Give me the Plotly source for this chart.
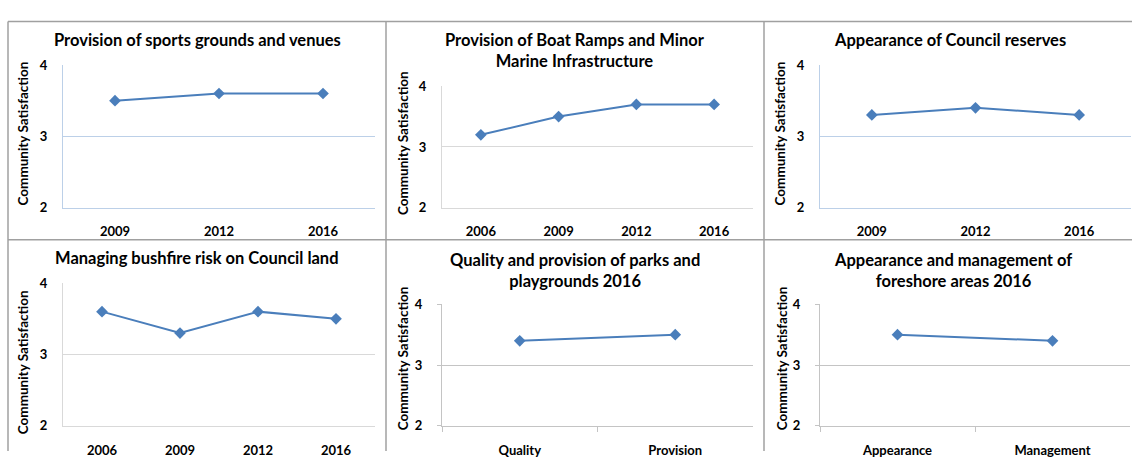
import plotly.graph_objects as go

W, H = 1132, 459

# ---- data ----
titles = [
    "Provision of sports grounds and venues",
    "Provision of Boat Ramps and Minor<br>Marine Infrastructure",
    "Appearance of Council reserves",
    "Managing bushfire risk on Council land",
    "Quality and provision of parks and<br>playgrounds 2016",
    "Appearance and management of<br>foreshore areas 2016",
]
cats_sports = ["2009", "2012", "2016"]
vals_sports = [3.5, 3.6, 3.6]
cats_boat = ["2006", "2009", "2012", "2016"]
vals_boat = [3.2, 3.5, 3.7, 3.7]
cats_reserves = ["2009", "2012", "2016"]
vals_reserves = [3.3, 3.4, 3.3]
cats_bushfire = ["2006", "2009", "2012", "2016"]
vals_bushfire = [3.6, 3.3, 3.6, 3.5]
cats_parks = ["Quality", "Provision"]
vals_parks = [3.4, 3.5]
cats_foreshore = ["Appearance", "Management"]
vals_foreshore = [3.5, 3.4]
y_ticks = [2, 3, 4]
y_label = "Community Satisfaction"

series = [
    (cats_sports, vals_sports),
    (cats_boat, vals_boat),
    (cats_reserves, vals_reserves),
    (cats_bushfire, vals_bushfire),
    (cats_parks, vals_parks),
    (cats_foreshore, vals_foreshore),
]

# ---- layout (pixel geometry) ----
# plot area: x0, x1, ytop, ybottom
plot_px = [
    (63, 375, 59, 207),
    (442, 753, 81, 207),
    (820, 1131, 59, 207),
    (63, 375, 285, 433),
    (442, 753, 307, 433),
    (820, 1130, 307, 433),
]
title_px = [(197, 33), (575, 44), (950, 33), (197, 259), (575, 272), (953, 272)]
ylab_px = [(23, 130), (403, 140), (780, 130), (23, 367), (403, 363), (782, 363)]
grid_colors = ["#BCD0E8", "#D9D9D9", "#BCD0E8", "#D9D9D9", "#C4C4C4", "#C4C4C4"]
has_ticks = [False, False, False, False, True, True]

FONT = "Lato"
LINE_COLOR = "#4A7EBB"

fig = go.Figure()
layout = dict(
    width=W, height=H, margin=dict(l=0, r=0, t=0, b=0),
    paper_bgcolor="white", plot_bgcolor="white", showlegend=False,
    font=dict(family=FONT, color="#000000"),
)
annotations = []
shapes = []

for i, ((cats, vals), (x0, x1, yt, yb)) in enumerate(zip(series, plot_px)):
    n = i + 1
    xa = "x" if n == 1 else f"x{n}"
    ya = "y" if n == 1 else f"y{n}"
    fig.add_trace(go.Scatter(
        x=cats, y=vals, xaxis=xa, yaxis=ya, mode="lines+markers",
        line=dict(color=LINE_COLOR, width=2),
        marker=dict(symbol="diamond", size=9, color=LINE_COLOR),
        hoverinfo="x+y",
    ))
    gc = grid_colors[i]
    layout["xaxis" if n == 1 else f"xaxis{n}"] = dict(
        domain=[x0 / W, x1 / W], anchor=ya, type="category",
        range=[-0.5, len(cats) - 0.5],
        showgrid=False, showline=True, linecolor=gc, linewidth=1,
        ticks="outside" if has_ticks[i] else "", ticklen=5, tickcolor=gc,
        tickson="boundaries" if has_ticks[i] else "labels",
        tickfont=dict(family=FONT, size=13, color="#000000", weight="bold"),
        ticklabelstandoff=12, fixedrange=True,
    )
    layout["yaxis" if n == 1 else f"yaxis{n}"] = dict(
        domain=[1 - yb / H, 1 - yt / H], anchor=xa,
        range=[2, 4], tickvals=y_ticks, showgrid=True, gridcolor=gc, gridwidth=1,
        showline=True, linecolor=gc, linewidth=1, zeroline=False,
        ticks="outside" if has_ticks[i] else "", ticklen=4, tickcolor=gc,
        tickfont=dict(family=FONT, size=13, color="#000000", weight="bold"),
        ticklabelstandoff=12, fixedrange=True,
    )
    tx, ty = title_px[i]
    annotations.append(dict(
        text=titles[i], x=tx / W, y=1 - ty / H, xref="paper", yref="paper",
        xanchor="center", yanchor="middle", showarrow=False, align="center",
        font=dict(family=FONT, size=16.5, color="#000000", weight="bold"),
    ))
    lx, ly = ylab_px[i]
    annotations.append(dict(
        text=y_label, x=lx / W, y=1 - ly / H, xref="paper", yref="paper",
        xanchor="center", yanchor="middle", showarrow=False, textangle=-90,
        font=dict(family=FONT, size=13.5, color="#000000", weight="bold"),
    ))

BORDER = "#A0A0A0"
def pline(xa, ya, xb, yb):
    shapes.append(dict(type="line", xref="paper", yref="paper",
                       x0=xa / W, y0=1 - ya / H, x1=xb / W, y1=1 - yb / H,
                       line=dict(color=BORDER, width=1.5)))

pline(8, 14, 1132, 14)        # top
pline(8, 14, 8, 459)          # left
pline(386, 14, 386, 459)      # divider 1
pline(764, 14, 764, 459)      # divider 2
pline(8, 240, 1132, 240)      # row divider

layout["annotations"] = annotations
layout["shapes"] = shapes
fig.update_layout(**layout)
fig.write_html("out.html", config={"displayModeBar": False})

# remove the browser's default page margin so the figure sits at (0, 0)
with open("out.html", "r", encoding="utf-8") as f:
    html = f.read()
html = html.replace("<head>", "<head><style>html,body{margin:0;padding:0;overflow:hidden;}</style>", 1)
with open("out.html", "w", encoding="utf-8") as f:
    f.write(html)
